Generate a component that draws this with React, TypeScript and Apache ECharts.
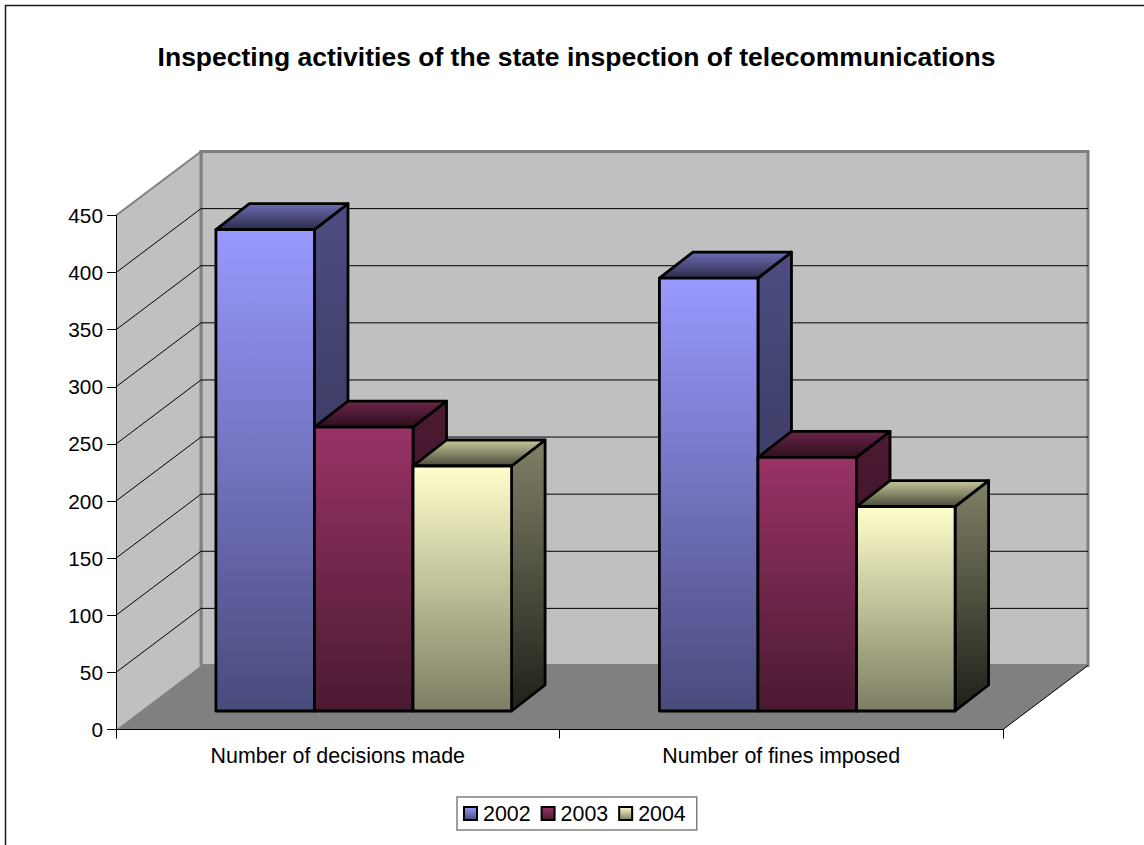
import React, { useEffect, useRef } from "react";
import * as echarts from "echarts";

const categories = ["Number of decisions made", "Number of fines imposed"];
const years = ["2002", "2003", "2004"];
const values2002 = [421.5, 379];
const values2003 = [248.5, 222];
const values2004 = [214.5, 179];
const seriesValues = [values2002, values2003, values2004];
const valueTicks = [50, 100, 150, 200, 250, 300, 350, 400];

const FONT = "'Liberation Sans', Arial, sans-serif";

type Shades = { front: [string, string]; side: [string, string]; top: [string, string] };
const shades: Shades[] = [
  { front: ["#9999ff", "#4a4a7c"], side: ["#4d4d82", "#2a2a45"], top: ["#6c6cb4", "#2c2c4a"] },
  { front: ["#993366", "#4a1a31"], side: ["#4d1a33", "#28101c"], top: ["#6c2548", "#2c0f1e"] },
  { front: ["#ffffcc", "#7d7d64"], side: ["#808066", "#20201a"], top: ["#c8c89c", "#4a4a3a"] },
];

const vGrad = (c: [string, string]) =>
  new echarts.graphic.LinearGradient(0, 0, 0, 1, [
    { offset: 0, color: c[0] },
    { offset: 1, color: c[1] },
  ]);

// Projection of the 3D box: full floor depth on screen, and the depth of a bar.
const FLOOR_DX = 85;
const FLOOR_DY = -64;
const BAR_DX = 33.5;
const BAR_DY = -26;
const BAR_INSET_DX = 26;
const BAR_INSET_DY = -18.5;
const BARS_PER_CATEGORY = 4.5;

const renderWalls = (params: any) => {
  const { x, y, width, height } = params.coordSys;
  const bottom = y + height;
  const right = x + width;
  const wall = { fill: "#c0c0c0", stroke: "#808080", lineWidth: 3 };
  return {
    type: "group",
    children: [
      { type: "rect", shape: { x: x + FLOOR_DX, y: y + FLOOR_DY, width, height }, style: wall },
      {
        type: "polygon",
        shape: { points: [[x, bottom], [x, y], [x + FLOOR_DX, y + FLOOR_DY], [x + FLOOR_DX, bottom + FLOOR_DY]] },
        style: { fill: "#c0c0c0" },
      },
      { type: "line", shape: { x1: x, y1: y, x2: x + FLOOR_DX, y2: y + FLOOR_DY }, style: { stroke: "#808080", lineWidth: 2 } },
      { type: "line", shape: { x1: x + FLOOR_DX, y1: y + FLOOR_DY, x2: x + FLOOR_DX, y2: bottom + FLOOR_DY }, style: { stroke: "#808080", lineWidth: 3 } },
      {
        type: "polygon",
        shape: { points: [[x, bottom], [right, bottom], [right + FLOOR_DX, bottom + FLOOR_DY], [x + FLOOR_DX, bottom + FLOOR_DY]] },
        style: { fill: "#808080" },
      },
      { type: "line", shape: { x1: right, y1: bottom, x2: right + FLOOR_DX, y2: bottom + FLOOR_DY }, style: { stroke: "#000000", lineWidth: 1 } },
    ],
  };
};

const renderGridLine = (params: any, api: any) => {
  const { x, width } = params.coordSys;
  const yPx = api.coord([0, api.value(0)])[1];
  const line = { stroke: "#000000", lineWidth: 1 };
  return {
    type: "group",
    children: [
      { type: "line", shape: { x1: x, y1: yPx, x2: x + FLOOR_DX, y2: yPx + FLOOR_DY }, style: line },
      { type: "line", shape: { x1: x + FLOOR_DX, y1: yPx + FLOOR_DY, x2: x + FLOOR_DX + width, y2: yPx + FLOOR_DY }, style: line },
    ],
  };
};

const renderBar = (yearIndex: number) => (_params: any, api: any) => {
  const cat = api.value(0);
  const center = api.coord([cat, 0])[0];
  const barW = api.size([1, 0])[0] / BARS_PER_CATEGORY;
  const base = api.coord([cat, 0])[1] + BAR_INSET_DY;
  const top = api.coord([cat, api.value(1)])[1] + BAR_INSET_DY;
  const left = center + BAR_INSET_DX + (yearIndex - 1.5) * barW;
  const right = left + barW;
  const c = shades[yearIndex];
  const edge = { stroke: "#000000", lineWidth: 2.8, lineJoin: "round" };
  return {
    type: "group",
    children: [
      {
        type: "polygon",
        shape: { points: [[right, top], [right + BAR_DX, top + BAR_DY], [right + BAR_DX, base + BAR_DY], [right, base]] },
        style: { ...edge, fill: vGrad(c.side) },
      },
      {
        type: "polygon",
        shape: { points: [[left, top], [left + BAR_DX, top + BAR_DY], [right + BAR_DX, top + BAR_DY], [right, top]] },
        style: { ...edge, fill: vGrad(c.top) },
      },
      { type: "rect", shape: { x: left, y: top, width: barW, height: base - top }, style: { ...edge, fill: vGrad(c.front) } },
    ],
  };
};

export default function App() {
  const ref = useRef<HTMLDivElement>(null);

  useEffect(() => {
    document.body.style.margin = "0";
    document.body.style.overflow = "hidden";
    const chart = echarts.init(ref.current!, undefined, { renderer: "svg" });
    chart.setOption({
      animation: false,
      backgroundColor: "#ffffff",
      textStyle: { fontFamily: FONT },
      title: {
        text: "Inspecting activities of the state inspection of telecommunications",
        left: 571.5,
        top: 38,
        textAlign: "center",
        textStyle: { fontFamily: FONT, fontSize: 26.5, fontWeight: "bold", color: "#000000" },
      },
      grid: { left: 116, top: 215.5, width: 887, height: 514 },
      xAxis: {
        type: "category",
        data: categories,
        z: 20,
        axisLine: { show: true, lineStyle: { color: "#000000", width: 1 } },
        axisTick: { show: true, alignWithLabel: false, length: 9, lineStyle: { color: "#000000", width: 1 } },
        axisLabel: { fontFamily: FONT, fontSize: 21.4, color: "#000000", margin: 16 },
        splitLine: { show: false },
      },
      yAxis: {
        type: "value",
        min: 0,
        max: 450,
        interval: 50,
        z: 20,
        axisLine: { show: true, lineStyle: { color: "#000000", width: 1 } },
        axisTick: { show: true, length: 9, lineStyle: { color: "#000000", width: 1 } },
        axisLabel: { fontFamily: FONT, fontSize: 20.8, color: "#000000", margin: 13, padding: [0, 0, 2, 0] },
        splitLine: { show: false },
      },
      legend: {
        left: 457,
        top: 797,
        padding: [6, 11, 6, 6],
        itemGap: 10,
        itemWidth: 13,
        itemHeight: 13,
        icon: "rect",
        data: years,
        borderColor: "#808080",
        borderWidth: 1.5,
        selectedMode: false,
        itemStyle: { borderColor: "#000000", borderWidth: 2 },
        textStyle: { fontFamily: FONT, fontSize: 21.4, color: "#000000", padding: [0, 0, 0, 1] },
      },
      graphic: [
        {
          type: "rect",
          silent: true,
          shape: { x: 5.5, y: 5.5, width: 1200, height: 900 },
          style: { fill: "transparent", stroke: "#1a1a1a", lineWidth: 1.5 },
        },
      ],
      series: [
        { type: "custom", name: "walls", z: 1, silent: true, renderItem: renderWalls, data: [[0, 0]] },
        { type: "custom", name: "grid", z: 2, silent: true, renderItem: renderGridLine, encode: { y: 0 }, data: valueTicks.map((v) => [v]) },
        ...years.map((year, i) => ({
          type: "custom",
          name: year,
          z: 6,
          renderItem: renderBar(i),
          itemStyle: { color: vGrad(shades[i].front), borderColor: "#000000", borderWidth: 2 },
          encode: { x: 0, y: 1 },
          data: seriesValues[i].map((v, c) => [c, v]),
        })),
      ],
    });
    return () => chart.dispose();
  }, []);

  return <div ref={ref} style={{ position: "fixed", left: 0, top: 0, width: 1144, height: 845 }} />;
}
